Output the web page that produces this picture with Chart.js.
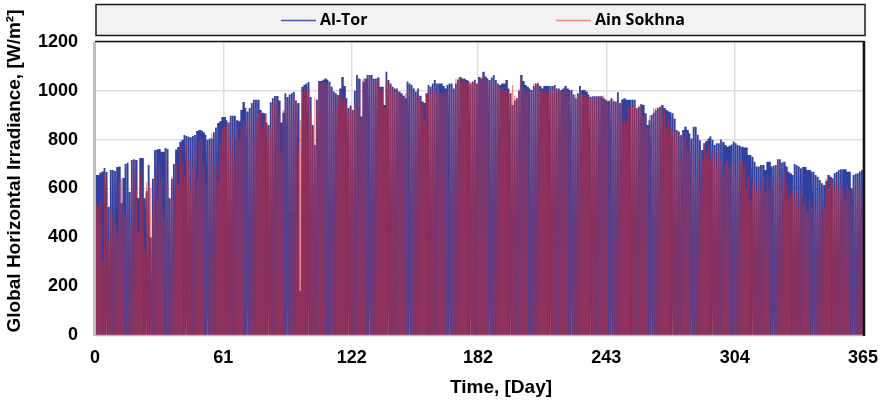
<!DOCTYPE html>
<html>
<head>
<meta charset="utf-8">
<script src="https://cdn.jsdelivr.net/npm/chart.js@4/dist/chart.umd.min.js"></script>
<style>
  html, body { margin: 0; padding: 0; background: #fff; }
  #wrap { width: 882px; height: 405px; }
</style>
</head>
<body>
<div id="wrap"><canvas id="chart" width="882" height="405"></canvas></div>
<script>
// x axis ticks (day of year)
const dayTicks = [0, 61, 122, 182, 243, 304, 365];

const seriesNames = ["Al-Tor", "Ain Sokhna"];

// daily peak irradiance, W/m2 (day 0 .. 364)
const alTorPeak = [
  655, 655, 665, 670, 684, 668, 525, 676, 676, 672,
  688, 690, 540, 643, 700, 705, 586, 717, 720, 717,
  561, 725, 725, 560, 590, 696, 400, 640, 758, 760,
  762, 750, 750, 766, 762, 560, 640, 700, 760, 770,
  791, 800, 819, 815, 812, 810, 815, 819, 835, 840,
  838, 830, 820, 800, 805, 805, 830, 850, 868, 875,
  893, 893, 880, 870, 898, 898, 898, 880, 875, 922,
  954, 930, 915, 930, 950, 963, 963, 963, 922, 910,
  908, 870, 860, 953, 970, 979, 979, 960, 870, 910,
  990, 975, 985, 990, 995, 960, 950, 180, 1017, 1025,
  1030, 1036, 975, 860, 778, 963, 1040, 1040, 1045, 1050,
  1045, 1037, 1017, 997, 990, 983, 1010, 1057, 1020, 970,
  930, 940, 922, 1000, 1065, 1050, 895, 1037, 1050, 1065,
  1065, 1065, 1050, 1050, 1055, 1017, 1017, 942, 1078, 1044,
  1030, 1017, 1010, 1010, 997, 990, 980, 970, 1037, 1030,
  1024, 1010, 997, 1010, 980, 956, 950, 990, 1024, 1017,
  1030, 1044, 1030, 1030, 1030, 1020, 1010, 1024, 1030, 1030,
  1010, 1030, 1045, 1057, 1050, 1050, 1044, 1040, 1030, 1037,
  1045, 1030, 1057, 1050, 1078, 1058, 1050, 1044, 1055, 1065,
  1044, 1030, 1024, 1030, 1030, 1044, 1010, 990, 942, 960,
  970, 1000, 1065, 1040, 1024, 1017, 1010, 1003, 1020, 1030,
  1030, 1020, 1010, 1020, 1020, 1020, 1020, 1020, 1024, 1010,
  1010, 1003, 1010, 1020, 1010, 1003, 1003, 985, 970, 990,
  1020, 1003, 1003, 997, 985, 976, 978, 978, 978, 978,
  978, 970, 963, 956, 960, 970, 956, 956, 994, 950,
  965, 970, 963, 963, 963, 963, 963, 929, 935, 945,
  942, 908, 860, 880, 901, 910, 922, 929, 935, 942,
  930, 922, 915, 912, 908, 887, 840, 833, 819, 840,
  853, 840, 826, 805, 853, 853, 820, 798, 758, 785,
  795, 805, 814, 800, 778, 785, 785, 801, 790, 778,
  771, 775, 780, 792, 785, 778, 775, 771, 768, 768,
  737, 737, 730, 710, 690, 690, 696, 696, 676, 710,
  710, 690, 693, 696, 720, 720, 706, 710, 690, 669,
  662, 655, 700, 695, 690, 683, 688, 688, 676, 676,
  669, 669, 655, 648, 635, 621, 614, 630, 655, 648,
  642, 662, 668, 676, 679, 679, 679, 669, 669, 601,
  655, 660, 662, 670, 676
];

const ainSokhnaPeak = [
  540, 520, 550, 300, 655, 640, 380, 510, 500, 460,
  420, 630, 640, 510, 480, 560, 450, 680, 717, 600,
  420, 670, 560, 350, 627, 620, 600, 500, 650, 560,
  700, 640, 480, 750, 620, 500, 650, 560, 700, 620,
  770, 700, 650, 785, 720, 600, 690, 760, 640, 790,
  805, 700, 620, 760, 780, 826, 700, 700, 630, 780,
  840, 853, 867, 867, 760, 820, 700, 853, 800, 853,
  880, 860, 893, 901, 950, 800, 880, 908, 915, 850,
  880, 908, 820, 853, 940, 963, 963, 900, 750, 922,
  950, 960, 950, 930, 970, 960, 760, 880, 1000, 1010,
  1000, 1000, 900, 850, 970, 940, 1030, 1030, 1035, 1030,
  1030, 1030, 990, 960, 930, 980, 990, 960, 970, 940,
  900, 930, 920, 950, 940, 1010, 890, 1050, 1050, 1060,
  1060, 1040, 1040, 1040, 1045, 1010, 1000, 930, 1040, 1030,
  1020, 1000, 1000, 1005, 990, 985, 975, 990, 1040, 1000,
  990, 970, 980, 1000, 960, 950, 880, 980, 1010, 990,
  1000, 1010, 990, 1000, 990, 990, 995, 990, 1000, 995,
  990, 1050, 1055, 1050, 1040, 1040, 1035, 1030, 1035, 1040,
  1040, 1030, 1040, 1055, 1060, 1060, 1040, 1030, 1040, 1035,
  1030, 1020, 1010, 1010, 1000, 1005, 1000, 990, 1024, 980,
  970, 1010, 1058, 1010, 1000, 1000, 995, 1000, 1030, 1030,
  1035, 1000, 1000, 995, 1000, 990, 1000, 1010, 1015, 1000,
  1005, 1000, 1000, 1010, 1000, 995, 990, 980, 985, 980,
  990, 985, 985, 980, 975, 970, 975, 960, 970, 975,
  980, 980, 965, 960, 955, 963, 963, 955, 960, 945,
  870, 880, 870, 930, 940, 935, 950, 930, 940, 945,
  900, 900, 850, 900, 890, 930, 930, 935, 930, 900,
  920, 850, 880, 840, 840, 830, 820, 830, 710, 800,
  830, 760, 790, 700, 800, 650, 750, 600, 720, 785,
  740, 760, 720, 750, 730, 700, 760, 720, 650, 700,
  720, 690, 710, 700, 650, 700, 720, 710, 690, 600,
  650, 550, 620, 640, 590, 620, 600, 650, 590, 640,
  600, 650, 620, 690, 710, 650, 600, 670, 620, 560,
  580, 600, 560, 590, 520, 600, 540, 560, 500, 550,
  520, 560, 500, 540, 560, 480, 520, 640, 600, 640,
  620, 600, 640, 580, 620, 600, 560, 610, 590, 540,
  620, 640, 610, 600, 560
];

const blue = "#3040a0";
const red = "rgba(238, 38, 28, 0.5)";

// one spike per day: sunrise, noon peak, sunset
function dailyCurve(peaks, rise, set) {
  const pts = [];
  peaks.forEach((p, d) => {
    pts.push({ x: d + rise, y: 0 }, { x: d + 0.5, y: p }, { x: d + set, y: 0 });
  });
  return pts;
}

const boldFont = (size) => ({ family: "'Liberation Sans', Arial, sans-serif", size: size, weight: "bold" });

// frame, legend box and axis titles
const decor = {
  id: "decor",
  afterDraw(chart) {
    const ctx = chart.ctx;
    const a = chart.chartArea;
    ctx.save();

    // plot frame
    ctx.strokeStyle = "#bfbfbf";
    ctx.lineWidth = 3;
    ctx.beginPath();
    ctx.moveTo(a.left - 0.5, a.top);
    ctx.lineTo(a.left - 0.5, a.bottom + 1);
    ctx.stroke();
    ctx.lineWidth = 1.5;
    ctx.strokeStyle = "#b4b4c4";
    ctx.beginPath();
    ctx.moveTo(a.left, a.bottom + 0.5);
    ctx.lineTo(a.right, a.bottom + 0.5);
    ctx.stroke();
    ctx.strokeStyle = "#111";
    ctx.lineWidth = 1.5;
    ctx.beginPath();
    ctx.moveTo(a.left, a.top - 0.5);
    ctx.lineTo(a.right + 1, a.top - 0.5);
    ctx.stroke();
    ctx.lineWidth = 2.5;
    ctx.beginPath();
    ctx.moveTo(a.right + 1, a.top - 1);
    ctx.lineTo(a.right + 1, a.bottom + 1);
    ctx.stroke();

    // legend box
    ctx.fillStyle = "#f2f2f2";
    ctx.fillRect(a.left + 1, 4.5, 769, 31);
    ctx.strokeStyle = "#1a1a1a";
    ctx.lineWidth = 1.5;
    ctx.strokeRect(a.left + 1, 4.5, 769, 31);

    const items = [
      { x: 281, color: "#4858b0" },
      { x: 556, color: "rgba(240, 110, 100, 0.8)" }
    ];
    ctx.font = "bold 16px 'Open Sans', 'Noto Sans', sans-serif";
    ctx.textBaseline = "middle";
    ctx.textAlign = "left";
    items.forEach((it, i) => {
      ctx.strokeStyle = it.color;
      ctx.lineWidth = 1.5;
      ctx.beginPath();
      ctx.moveTo(it.x, 20.5);
      ctx.lineTo(it.x + 35, 20.5);
      ctx.stroke();
      ctx.fillStyle = "#000";
      ctx.fillText(seriesNames[i], it.x + 39, 20.5);
    });

    // axis titles
    ctx.fillStyle = "#000";
    ctx.font = "bold 19px 'Liberation Sans', Arial, sans-serif";
    ctx.textAlign = "center";
    ctx.fillText("Time, [Day]", 501, 388);
    ctx.translate(15, 171);
    ctx.rotate(-Math.PI / 2);
    ctx.fillText("Global Horizontal Irradiance, [W/m\u00b2]", 0, 0);
    ctx.restore();
  }
};

new Chart(document.getElementById("chart"), {
  type: "line",
  data: {
    datasets: [
      {
        label: seriesNames[0],
        data: dailyCurve(alTorPeak, 0.22, 0.78),
        borderColor: blue,
        borderWidth: 1.8,
        pointRadius: 0,
        order: 1
      },
      {
        label: seriesNames[1],
        data: dailyCurve(ainSokhnaPeak, 0.3, 0.7),
        borderColor: red,
        borderWidth: 1.3,
        pointRadius: 0,
        order: 0
      }
    ]
  },
  options: {
    responsive: false,
    animation: false,
    parsing: false,
    normalized: true,
    events: [],
    layout: { padding: { top: 42, right: 19, left: 0, bottom: 0 } },
    elements: { line: { tension: 0 } },
    plugins: { legend: { display: false }, tooltip: { enabled: false } },
    scales: {
      x: {
        type: "linear",
        min: 0,
        max: 365,
        afterBuildTicks: (s) => { s.ticks = dayTicks.map(v => ({ value: v })); },
        afterFit: (s) => { s.height = 70; s.paddingLeft = 0; s.paddingRight = 0; },
        grid: { color: "#dddddd", lineWidth: 1.5, drawTicks: false },
        border: { display: false },
        ticks: { color: "#000", font: boldFont(18), padding: 12, maxRotation: 0, autoSkip: false }
      },
      y: {
        min: 0,
        max: 1200,
        afterFit: (s) => { s.width = 95; s.paddingTop = 0; s.paddingBottom = 0; },
        grid: { color: "#dddddd", lineWidth: 1.5, drawTicks: false },
        border: { display: false },
        ticks: { stepSize: 200, color: "#000", font: boldFont(18), padding: 17, callback: (v) => String(v) }
      }
    }
  },
  plugins: [decor]
});
</script>
</body>
</html>
